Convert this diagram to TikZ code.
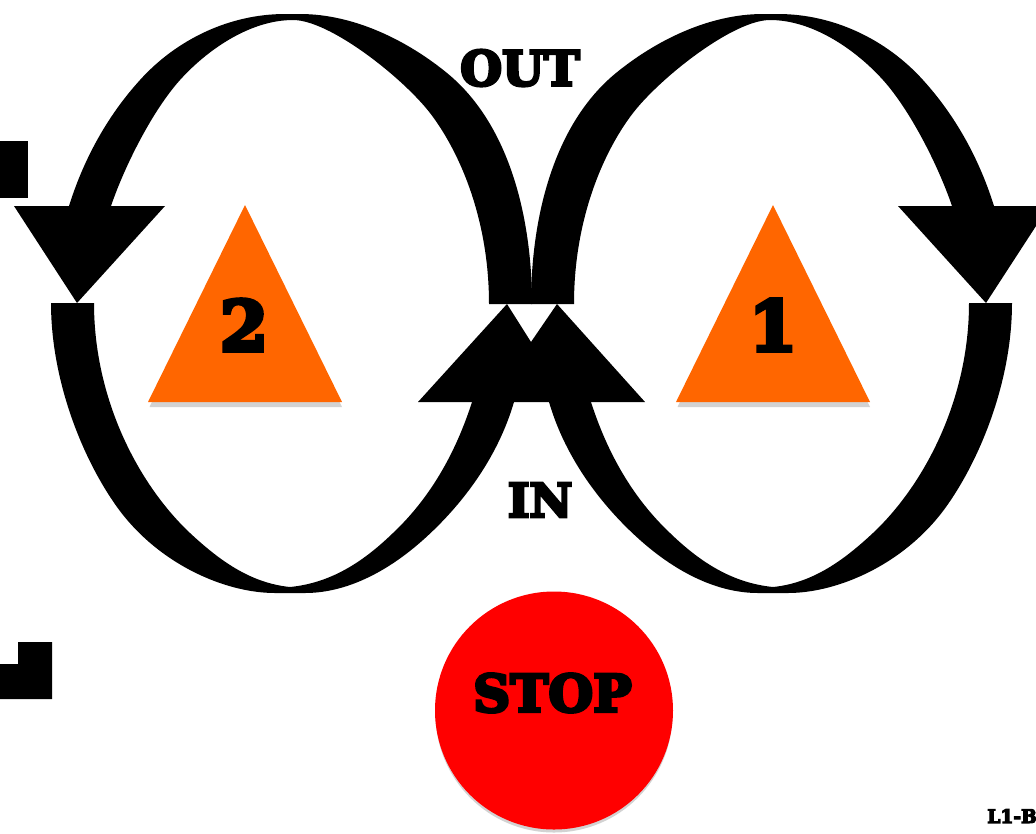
\documentclass[tikz,border=0pt]{standalone}
\usepackage{fontspec}
\usepackage{xcolor}
\newfontfamily\heavyfont[FakeBold=6]{DejaVu Serif Bold}
\definecolor{signorange}{HTML}{FF6600}
\definecolor{signshadow}{HTML}{D2D2D2}

% One loop with its arrow head, drawn on the left and mirrored for the right
\newcommand{\looparcs}{
    % Top crescent
    \fill (532,304) .. controls (532,219) and (510,124.5) .. (447,73)
        .. controls (408.5,41.5) and (355,14) .. (300,14) -- (285,14)
        .. controls (230,14) and (177,39) .. (140,80)
        .. controls (110,113) and (85,155) .. (69,206) -- (111,206)
        .. controls (125,165) and (153,110) .. (180,80)
        .. controls (207,50) and (250,20) .. (293,20)
        .. controls (330,20) and (403,78) .. (430,113)
        .. controls (457,148) and (489,215) .. (489,304) -- cycle;
    \fill (14,206) -- (165,206) -- (77,303) -- cycle;

    % Bottom crescent
    \fill (51,303) .. controls (51,380) and (82,458) .. (117,507)
        .. controls (158,564) and (225,593) .. (275,593) -- (305,593)
        .. controls (345,593) and (386,573) .. (423,540)
        .. controls (460,507) and (497,460) .. (514,402) -- (472,402)
        .. controls (455,455) and (429,499) .. (393,533)
        .. controls (362,563) and (330,583) .. (290,587)
        .. controls (250,583) and (219,560) .. (190,533)
        .. controls (139,485) and (94,400) .. (94,303) -- cycle;
}

\begin{document}
\begin{tikzpicture}[x=0.75pt, y=-0.75pt, every node/.style={inner sep=0pt, text=black}]

    % Page size of the reference, everything is in its pixels
    \useasboundingbox (0,0) rectangle (1036,833);
    \clip (0,0) rectangle (1036,833);
    \fill[white] (0,0) rectangle (1036,833);

    % Left loop (circle 2)
    \begin{scope}[fill=black]
        \looparcs
    \end{scope}

    % Right loop (circle 1)
    \begin{scope}[fill=black, shift={(1063,0)}, xscale=-1]
        \looparcs
    \end{scope}

    % The two joined arrow heads in the middle
    \fill[black] (418,402) -- (507,304) -- (531,342) -- (557,304) -- (645,402) -- cycle;

    % Black marks on the left edge
    \fill[black] (0,141) rectangle (28,198);
    \fill[black] (0,664) -- (18,664) -- (18,642) -- (52,642) -- (52,699) -- (0,699) -- cycle;

    % Orange triangles
    \fill[signshadow] (149.5,407) -- (245,212) -- (342,407) -- cycle;
    \fill[signorange] (148,402) -- (245,205) -- (342,402) -- cycle;
    \fill[signshadow] (677.5,407) -- (773,212) -- (870,407) -- cycle;
    \fill[signorange] (676,402) -- (773,205) -- (870,402) -- cycle;

    % Stop sign
    \fill[signshadow] (554,714) circle (118.5);
    \fill[red] (554,710.5) circle (119);

    % Labels
    \begin{scope}
        \node[font=\heavyfont\fontsize{52}{52}\selectfont] (Two) at (244,325) {2};
        \node[font=\heavyfont\fontsize{52}{52}\selectfont] (One) at (773,325) {1};
        \node[font=\heavyfont\fontsize{36}{36}\selectfont] (Out) at (520,68) {OUT};
        \node[font=\heavyfont\fontsize{35}{35}\selectfont] (In) at (540,500) {IN};
        \node[font=\heavyfont\fontsize{38.5}{38.5}\selectfont] (Stop) at (552.5,693) {STOP};
        \node[font=\heavyfont\fontsize{14}{14}\selectfont, anchor=west] (Code) at (987,816) {L1-B};
    \end{scope}
\end{tikzpicture}
\end{document}
